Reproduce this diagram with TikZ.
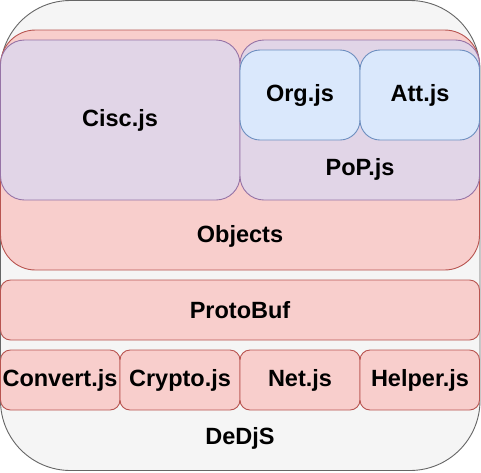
\documentclass[tikz,border=0pt]{standalone}
\usepackage{fontspec}
\setmainfont{Liberation Sans}
\definecolor{outerfill}{HTML}{F5F5F5}
\definecolor{outerdraw}{HTML}{666666}
\definecolor{redfill}{HTML}{F8CECC}
\definecolor{reddraw}{HTML}{B85450}
\definecolor{purfill}{HTML}{E1D5E7}
\definecolor{purdraw}{HTML}{9673A6}
\definecolor{bluefill}{HTML}{DAE8FC}
\definecolor{bluedraw}{HTML}{6C8EBF}
\begin{document}
\begin{tikzpicture}[x=1pt,y=-1pt,
  box/.style={line width=0.9pt},
  outerbox/.style={box,fill=outerfill,draw=outerdraw,rounded corners=70pt},
  redbox/.style={box,fill=redfill,draw=reddraw},
  purbox/.style={box,fill=purfill,draw=purdraw,rounded corners=24pt},
  bluebox/.style={box,fill=bluefill,draw=bluedraw,rounded corners=20pt},
  lbl/.style={font=\fontsize{23.5}{28}\selectfont\bfseries,inner sep=0pt}]
\useasboundingbox (0,0) rectangle (481,472);
% outer container
\draw[outerbox] (0.5,0.5) rectangle (480,470.5);
% Objects
\draw[redbox,rounded corners=35pt] (0.5,30) rectangle (479.5,270);
\draw[purbox] (0.5,40) rectangle (240,200);
\draw[purbox] (240,40) rectangle (479.5,200);
\draw[bluebox] (240,50) rectangle (360,140);
\draw[bluebox] (360,50) rectangle (479.5,140);
% ProtoBuf
\draw[redbox,rounded corners=10pt] (0.5,280) rectangle (479.5,340);
% bottom row
\draw[redbox,rounded corners=10pt] (0.5,350) rectangle (120,410);
\draw[redbox,rounded corners=10pt] (120,350) rectangle (240,410);
\draw[redbox,rounded corners=10pt] (240,350) rectangle (360,410);
\draw[redbox,rounded corners=10pt] (360,350) rectangle (479.5,410);
% labels
\node[lbl] (cisc) at (120,120) {Cisc.js};
\node[lbl] (org) at (300,95) {Org.js};
\node[lbl] (att) at (420,95) {Att.js};
\node[lbl] (pop) at (360,169) {PoP.js};
\node[lbl] (objects) at (240,236) {Objects};
\node[lbl] (proto) at (240,310) {ProtoBuf};
\node[lbl] (convert) at (60,380) {Convert.js};
\node[lbl] (crypto) at (180,380) {Crypto.js};
\node[lbl] (net) at (300,380) {Net.js};
\node[lbl] (helper) at (420,380) {Helper.js};
\node[lbl] (dedjs) at (240,438) {DeDjS};
\end{tikzpicture}
\end{document}
